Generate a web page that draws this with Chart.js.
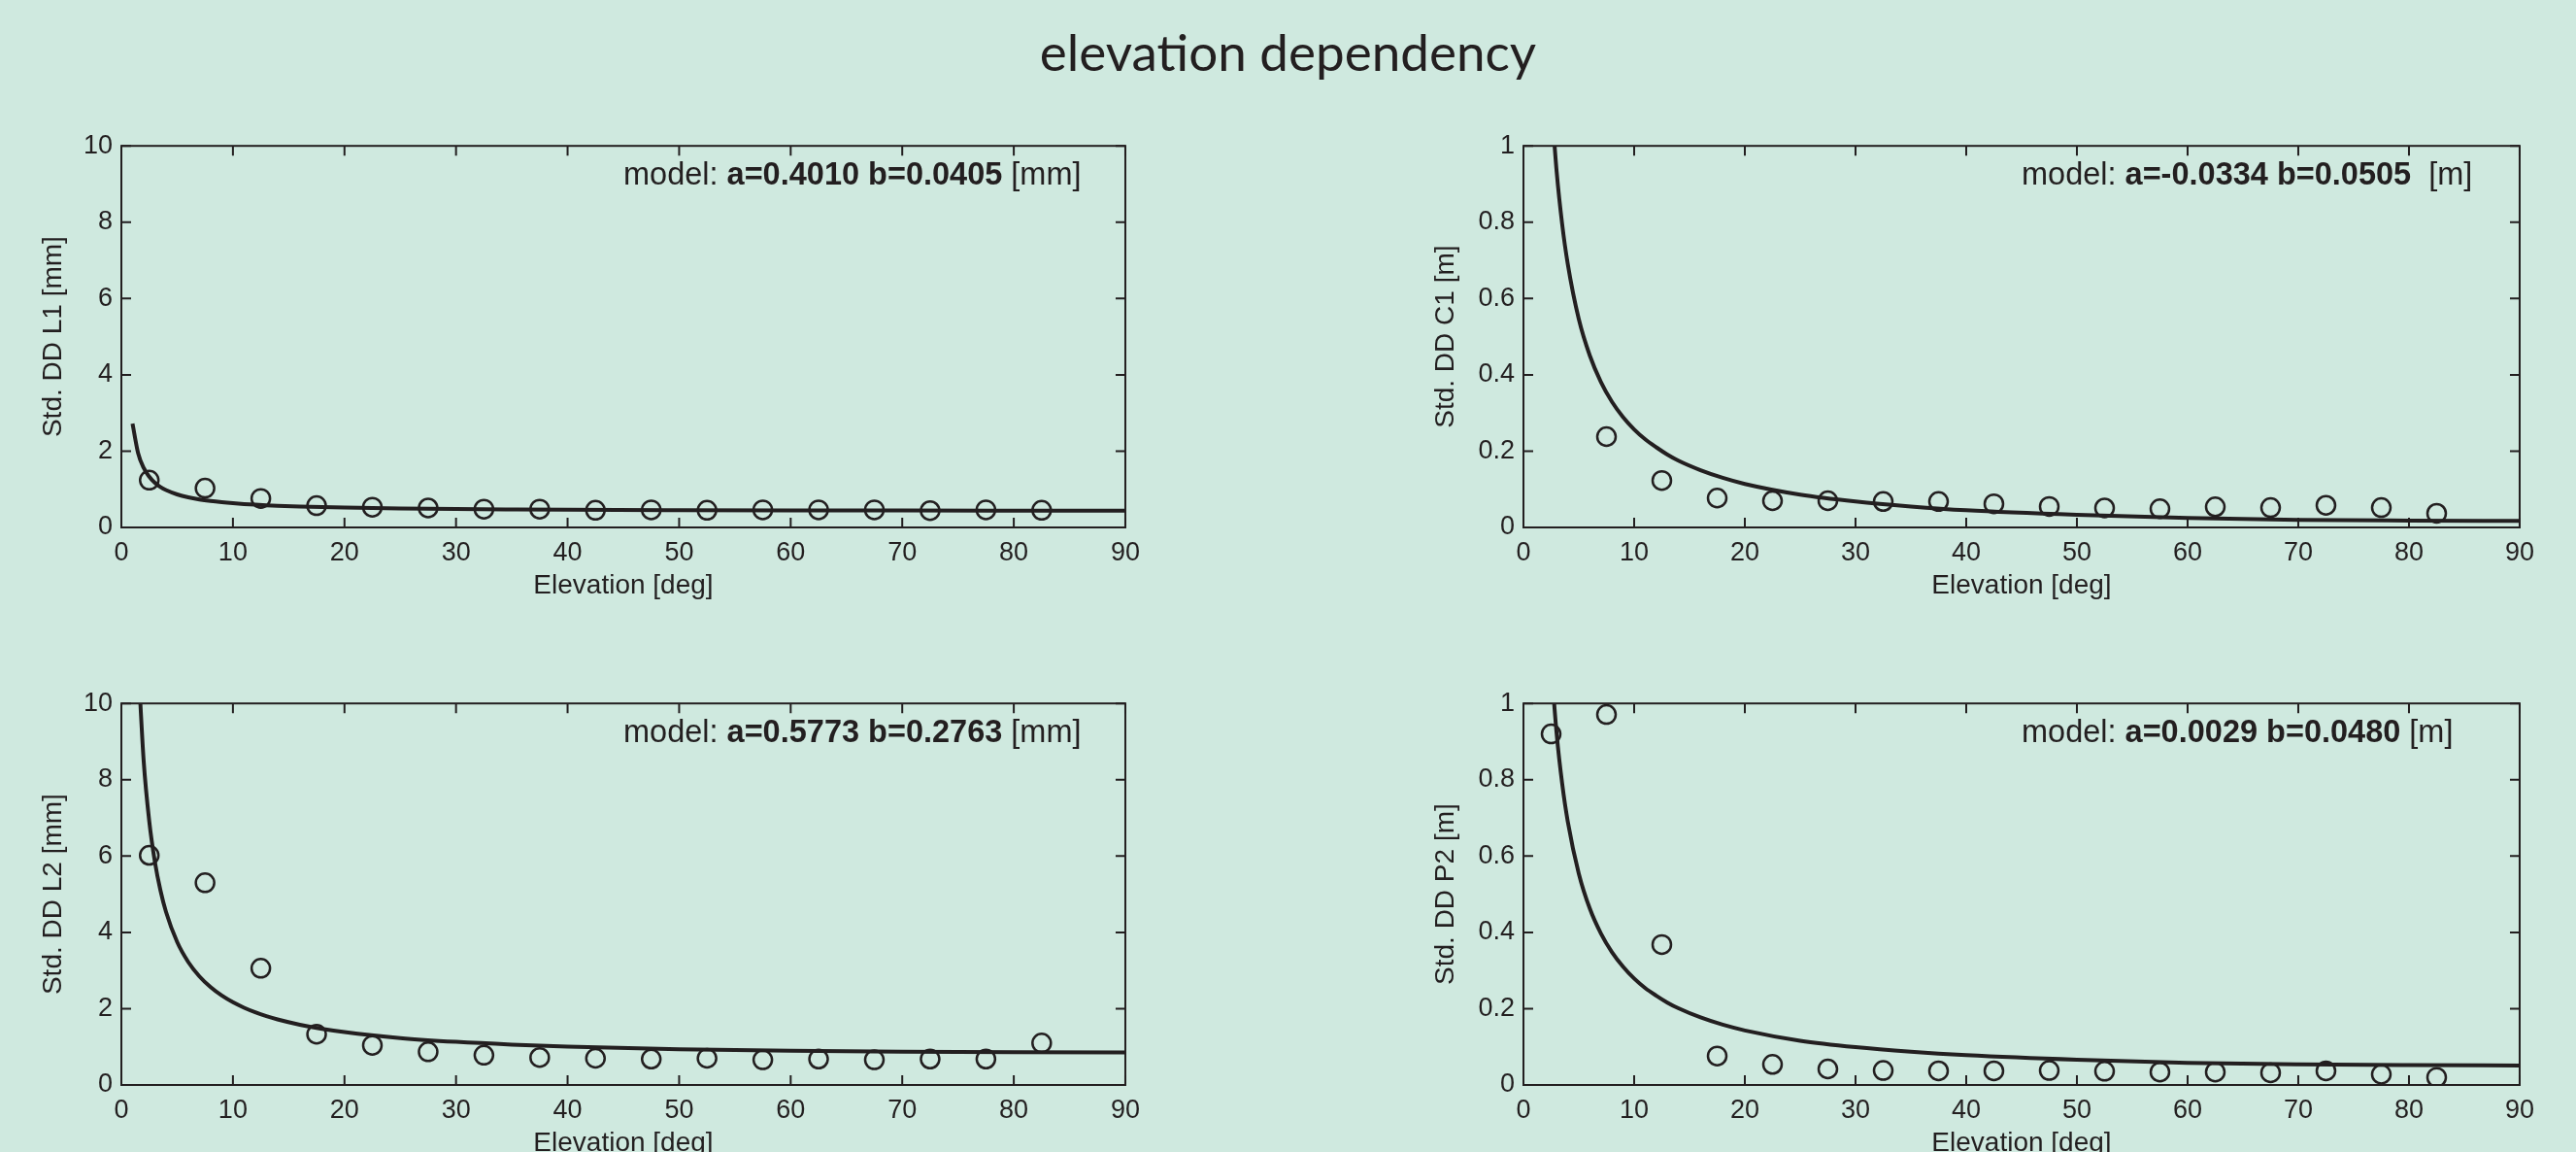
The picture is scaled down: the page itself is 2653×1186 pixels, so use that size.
<!DOCTYPE html>
<html>
<head>
<meta charset="utf-8">
<title>elevation dependency</title>
<script src="https://cdn.jsdelivr.net/npm/chart.js@4.4.1/dist/chart.umd.min.js"></script>
<style>
  html, body { margin: 0; padding: 0; background: #cfe9df; overflow: hidden; }
  #page { position: relative; width: 2653px; height: 1186px; }
  h1 {
    position: absolute; left: 0; top: 21px; width: 2653px; margin: 0;
    text-align: center; font: 400 53px/63px Lato, sans-serif; color: #231f20;
  }
  canvas { position: absolute; }
</style>
</head>
<body>
<div id="page">
  <h1>elevation dependency</h1>
  <canvas id="chartL1"></canvas>
  <canvas id="chartC1"></canvas>
  <canvas id="chartL2"></canvas>
  <canvas id="chartP2"></canvas>
</div>
<script>
// observed std of double differences, per 5 deg elevation bin
const elevation = [2.5, 7.5, 12.5, 17.5, 22.5, 27.5, 32.5, 37.5, 42.5, 47.5, 52.5, 57.5, 62.5, 67.5, 72.5, 77.5, 82.5];
const stdL1 = [1.24, 1.03, 0.76, 0.57, 0.53, 0.51, 0.48, 0.48, 0.45, 0.46, 0.45, 0.46, 0.46, 0.46, 0.44, 0.46, 0.45];
const stdC1 = [null, 0.238, 0.123, 0.077, 0.070, 0.070, 0.068, 0.068, 0.062, 0.055, 0.051, 0.049, 0.054, 0.052, 0.058, 0.052, 0.037];
const stdL2 = [6.02, 5.30, 3.06, 1.33, 1.04, 0.87, 0.78, 0.72, 0.70, 0.68, 0.70, 0.66, 0.68, 0.66, 0.68, 0.68, 1.10];
const stdP2 = [0.92, 0.971, 0.368, 0.076, 0.054, 0.042, 0.038, 0.037, 0.037, 0.038, 0.036, 0.034, 0.034, 0.032, 0.037, 0.028, 0.020];

// model curves
const modelElev = [1, 1.5, 2, 2.5, 3, 3.5, 4, 5, 6, 7, 8, 9, 10, 11, 12, 13, 14, 16, 18, 20, 25, 30, 35, 40, 50, 60, 70, 80, 90];
const modelL1 = [2.72, 1.95, 1.56, 1.33, 1.17, 1.06, 0.98, 0.866, 0.788, 0.733, 0.692, 0.660, 0.634, 0.613, 0.596, 0.581, 0.568, 0.548, 0.532, 0.519, 0.497, 0.482, 0.472, 0.464, 0.454, 0.448, 0.444, 0.442, 0.442];
const modelC1 = [null, null, null, 1.124, 0.932, 0.794, 0.691, 0.546, 0.450, 0.381, 0.329, 0.289, 0.257, 0.231, 0.210, 0.191, 0.175, 0.150, 0.130, 0.114, 0.086, 0.068, 0.055, 0.045, 0.033, 0.025, 0.020, 0.018, 0.017];
const modelL2 = [null, 11.13, 8.49, 6.91, 5.856, 5.103, 4.538, 3.748, 3.221, 2.845, 2.563, 2.343, 2.168, 2.025, 1.906, 1.805, 1.719, 1.580, 1.471, 1.385, 1.231, 1.130, 1.059, 1.007, 0.938, 0.896, 0.871, 0.858, 0.854];
const modelP2 = [null, null, null, 1.103, 0.920, 0.789, 0.691, 0.554, 0.462, 0.397, 0.348, 0.310, 0.279, 0.254, 0.234, 0.216, 0.201, 0.177, 0.158, 0.143, 0.116, 0.099, 0.087, 0.078, 0.066, 0.058, 0.054, 0.052, 0.051];

// tick labels
const xTicks = [0, 10, 20, 30, 40, 50, 60, 70, 80, 90];
const yTicksMm = [0, 2, 4, 6, 8, 10];
const yTicksM = [0, 0.2, 0.4, 0.6, 0.8, 1];

const INK = '#231f20';
const FONT = "'Liberation Sans', Arial, Helvetica, sans-serif";
const TICK_LEN = 10;

// frame with inward ticks on all four sides + the model text
const matlabFrame = {
  id: 'matlabFrame',
  afterDatasetsDraw(chart, args, opts) {
    const { ctx, chartArea: a, scales: { x, y } } = chart;
    ctx.save();
    ctx.strokeStyle = INK;
    ctx.lineWidth = 2;
    ctx.strokeRect(a.left, a.top, a.right - a.left, a.bottom - a.top);
    ctx.beginPath();
    x.ticks.forEach(t => {
      const px = x.getPixelForValue(t.value);
      ctx.moveTo(px, a.bottom); ctx.lineTo(px, a.bottom - TICK_LEN);
      ctx.moveTo(px, a.top); ctx.lineTo(px, a.top + TICK_LEN);
    });
    y.ticks.forEach(t => {
      const py = y.getPixelForValue(t.value);
      ctx.moveTo(a.left, py); ctx.lineTo(a.left + TICK_LEN, py);
      ctx.moveTo(a.right, py); ctx.lineTo(a.right - TICK_LEN, py);
    });
    ctx.stroke();

    // "model: a=... b=... [unit]" with the numbers in bold
    if (opts.note) {
      let tx = a.left + (a.right - a.left) * 0.5;
      const ty = a.top + 31;
      ctx.fillStyle = INK;
      ctx.textBaseline = 'middle';
      ctx.textAlign = 'left';
      opts.note.forEach(part => {
        ctx.font = (part.bold ? 'bold ' : '') + '32.5px ' + FONT;
        ctx.fillText(part.text, tx, ty);
        tx += ctx.measureText(part.text).width;
      });
    }
    ctx.restore();
  }
};

function toPoints(xs, ys) {
  return xs.map((v, i) => ({ x: v, y: ys[i] }));
}

function makePanel(id, box, yLabel, yTicks, yMax, obs, model, note) {
  const YW = box.yw, TP = 24, RP = 24, XH = 80;
  const canvas = document.getElementById(id);
  canvas.width = box.w + YW + RP;
  canvas.height = box.h + TP + XH;
  canvas.style.left = (box.left - YW) + 'px';
  canvas.style.top = (box.top - TP) + 'px';

  new Chart(canvas, {
    type: 'scatter',
    data: {
      datasets: [
        {
          label: 'model',
          data: toPoints(modelElev, model),
          showLine: true,
          spanGaps: false,
          cubicInterpolationMode: 'monotone',
          borderColor: INK,
          borderWidth: 4,
          pointRadius: 0
        },
        {
          label: 'std',
          data: toPoints(elevation, obs),
          showLine: false,
          pointStyle: 'circle',
          pointRadius: 9.5,
          borderWidth: 2.5,
          borderColor: INK,
          backgroundColor: 'rgba(0,0,0,0)'
        }
      ]
    },
    options: {
      responsive: false,
      animation: false,
      layout: { padding: { top: TP, right: RP, left: 0, bottom: 0 } },
      plugins: {
        legend: { display: false },
        tooltip: { enabled: false },
        matlabFrame: { note: note }
      },
      scales: {
        x: {
          type: 'linear',
          min: 0,
          max: 90,
          afterBuildTicks: s => { s.ticks = xTicks.map(v => ({ value: v })); },
          afterFit: s => { s.height = XH; },
          grid: { display: false, drawTicks: false },
          border: { display: false },
          ticks: { color: INK, padding: 10, font: { family: FONT, size: 27 }, callback: v => String(v) },
          title: {
            display: true, text: 'Elevation [deg]', color: INK,
            font: { family: FONT, size: 28 }, padding: { top: 0, bottom: 3 }
          }
        },
        y: {
          type: 'linear',
          min: 0,
          max: yMax,
          afterBuildTicks: s => { s.ticks = yTicks.map(v => ({ value: v })); },
          afterFit: s => { s.width = YW; },
          grid: { display: false, drawTicks: false },
          border: { display: false },
          ticks: { color: INK, padding: 9, font: { family: FONT, size: 27 }, callback: v => String(v) },
          title: {
            display: true, text: yLabel, color: INK,
            font: { family: FONT, size: 28 }, padding: { top: box.titlePad, bottom: 0 }
          }
        }
      }
    },
    plugins: [matlabFrame]
  });
}

const leftCol = { left: 125, w: 1035, yw: 125, titlePad: 38 };
const rightCol = { left: 1569, w: 1027, yw: 129, titlePad: 32 };

makePanel('chartL1', { ...leftCol, top: 149, h: 394 }, 'Std. DD L1 [mm]', yTicksMm, 10, stdL1, modelL1,
  [{ text: 'model: ' }, { text: 'a=0.4010 b=0.0405', bold: true }, { text: ' [mm]' }]);
makePanel('chartC1', { ...rightCol, top: 149, h: 394 }, 'Std. DD C1 [m]', yTicksM, 1, stdC1, modelC1,
  [{ text: 'model: ' }, { text: 'a=-0.0334 b=0.0505', bold: true }, { text: '  [m]' }]);
makePanel('chartL2', { ...leftCol, top: 723, h: 394 }, 'Std. DD L2 [mm]', yTicksMm, 10, stdL2, modelL2,
  [{ text: 'model: ' }, { text: 'a=0.5773 b=0.2763', bold: true }, { text: ' [mm]' }]);
makePanel('chartP2', { ...rightCol, top: 723, h: 394 }, 'Std. DD P2 [m]', yTicksM, 1, stdP2, modelP2,
  [{ text: 'model: ' }, { text: 'a=0.0029 b=0.0480', bold: true }, { text: ' [m]' }]);
</script>
</body>
</html>
